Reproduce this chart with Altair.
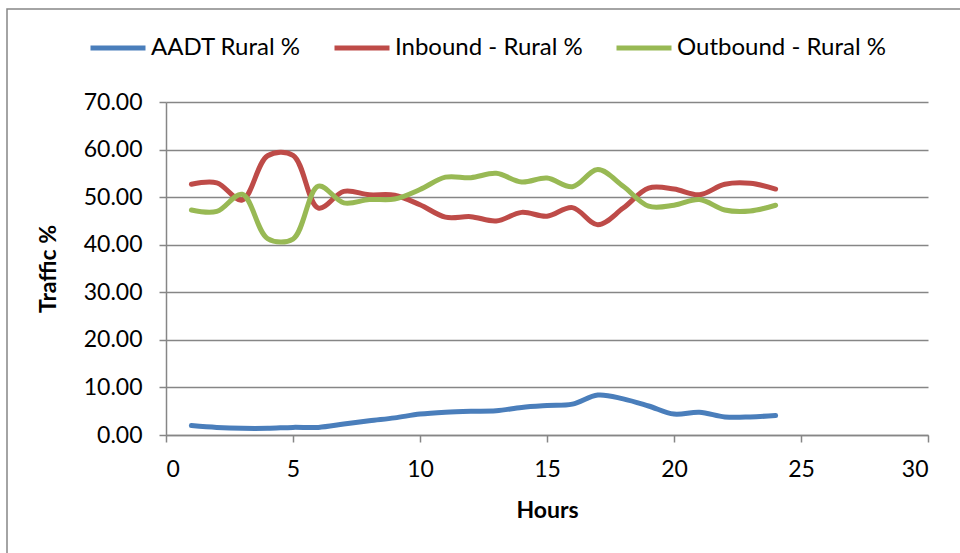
import altair as alt
import pandas as pd

# Hourly share of rural traffic (%)
hours = list(range(1, 25))
aadt_rural = [2.0, 1.6, 1.4, 1.4, 1.6, 1.6, 2.3, 3.0, 3.6, 4.4, 4.8, 5.0,
              5.1, 5.8, 6.2, 6.5, 8.4, 7.6, 6.1, 4.4, 4.8, 3.8, 3.8, 4.1]
inbound_rural = [52.7, 53.0, 49.4, 58.7, 58.8, 47.7, 51.2, 50.5, 50.4, 48.4, 45.8, 45.9,
                 45.0, 46.8, 46.0, 47.8, 44.2, 47.7, 51.9, 51.7, 50.5, 52.7, 52.9, 51.7]
outbound_rural = [47.3, 47.0, 50.6, 41.3, 41.2, 52.3, 48.8, 49.5, 49.6, 51.6, 54.2, 54.1,
                  55.0, 53.2, 54.0, 52.2, 55.8, 52.3, 48.1, 48.3, 49.5, 47.3, 47.1, 48.3]

series_names = ["AADT Rural %", "Inbound - Rural %", "Outbound - Rural %"]
series_colors = ["#4A7EBB", "#BE4B48", "#98B954"]

rows = []
for name, vals in zip(series_names, [aadt_rural, inbound_rural, outbound_rural]):
    for h, v in zip(hours, vals):
        rows.append({"Hours": h, "Traffic": v, "Series": name})
df = pd.DataFrame(rows)

FONT = "Lato"
GRID = "#868686"

lines = alt.Chart(df).mark_line(
    interpolate="catmull-rom", strokeWidth=5, strokeCap="round"
).encode(
    x=alt.X("Hours:Q", scale=alt.Scale(domain=[0, 30], nice=False),
            axis=alt.Axis(values=[0, 5, 10, 15, 20, 25, 30], grid=False,
                          title="Hours", titleFontWeight="bold",
                          titleX=381, titleY=75, titleBaseline="middle",
                          labelPadding=16, tickSize=7)),
    y=alt.Y("Traffic:Q", scale=alt.Scale(domain=[0, 70], nice=False),
            axis=alt.Axis(values=[0, 10, 20, 30, 40, 50, 60, 70], format=".2f",
                          grid=True, title="Traffic %", titleFontWeight="bold",
                          titleAngle=-90, titleX=-118, titleY=166.5,
                          titleAlign="center", titleBaseline="middle",
                          labelPadding=17, tickSize=7)),
    color=alt.Color("Series:N", scale=alt.Scale(domain=series_names, range=series_colors),
                    legend=alt.Legend(title=None, orient="none", direction="horizontal",
                                      legendX=-78, legendY=-84,
                                      symbolType="stroke", symbolSize=3025,
                                      symbolStrokeWidth=5, labelOffset=3,
                                      columnPadding=23, labelFontSize=24,
                                      labelLimit=0,
                                      labelFont=FONT, labelColor="#000000")),
)

# outer chart frame
frame = alt.Chart(pd.DataFrame({"f": [0]})).mark_rect(
    fill=None, stroke=GRID, strokeWidth=1.5
).encode(x=alt.value(-159), x2=alt.value(820), y=alt.value(-93), y2=alt.value(460))

chart = alt.layer(frame, lines).properties(
    width=762, height=333,
    autosize=alt.AutoSizeParams(type="none"),
    padding={"left": 166, "top": 102, "right": 32, "bottom": 118},
).configure_view(stroke=None).configure_axis(
    domainColor=GRID, tickColor=GRID, gridColor=GRID, domainWidth=1.5, tickWidth=1.5,
    gridWidth=1.5, labelFont=FONT, labelFontSize=23, labelColor="#000000",
    titleFont=FONT, titleFontSize=23, titleColor="#000000",
)

chart.save("out.html", embed_options={"renderer": "svg", "actions": False})
